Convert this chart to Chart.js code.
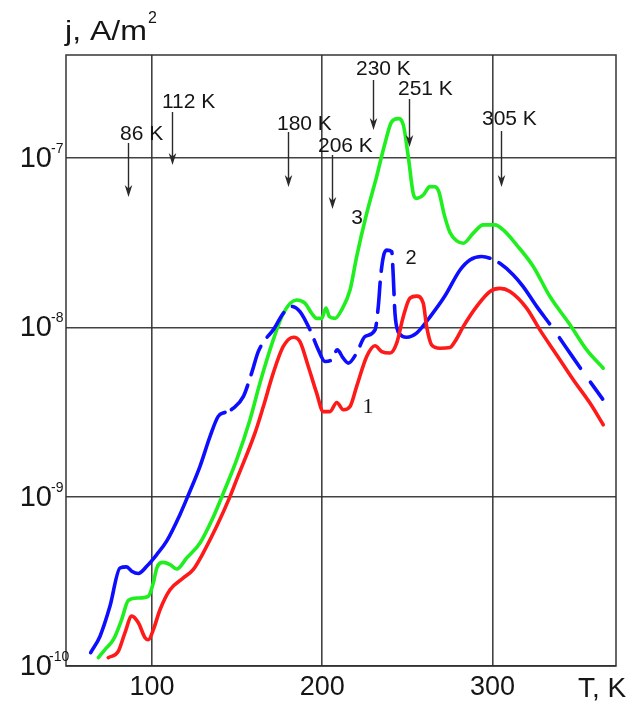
<!DOCTYPE html>
<html>
<head>
<meta charset="utf-8">
<script src="https://cdn.jsdelivr.net/npm/chart.js@4.4.1/dist/chart.umd.min.js"></script>
<style>
  html, body { margin: 0; padding: 0; background: #fff; }
  canvas { display: block; }
</style>
</head>
<body>
<canvas id="c" width="635" height="704"></canvas>
<script>
// Curve 1 (red): temperature, K and current density, A/m^2
const tempRed = [74.3, 80.2, 84.1, 88.1, 92, 95.9, 97.8, 100.8, 104.7, 110.6, 118.4, 124.3, 130.1, 138, 145.8, 149.7, 160.5, 165.4, 171.2, 177.1, 183, 186.9, 191.8, 196.7, 200.6, 204.5, 208.5, 212.4, 216.3, 220.2, 226.1, 231, 234.9, 239.8, 243.7, 247.6, 251.5, 255.4, 259.3, 261.3, 264.2, 269.1, 275, 277.9, 282.8, 290.7, 298.5, 304.3, 310.2, 320, 327.8, 337.6, 347.4, 357.2, 365];
const currRed = [1.12e-10, 1.22e-10, 1.57e-10, 1.97e-10, 1.80e-10, 1.47e-10, 1.43e-10, 1.64e-10, 2.15e-10, 2.82e-10, 3.31e-10, 3.72e-10, 4.66e-10, 6.68e-10, 1.00e-9, 1.26e-9, 2.38e-9, 3.41e-9, 5.37e-9, 7.71e-9, 8.75e-9, 8.24e-9, 5.87e-9, 4.09e-9, 3.18e-9, 3.18e-9, 3.60e-9, 3.26e-9, 3.41e-9, 4.48e-9, 6.73e-9, 7.78e-9, 7.19e-9, 7.05e-9, 8.07e-9, 1.16e-8, 1.49e-8, 1.53e-8, 1.39e-8, 1.01e-8, 7.89e-9, 7.53e-9, 7.60e-9, 8.24e-9, 1.01e-8, 1.33e-8, 1.63e-8, 1.70e-8, 1.63e-8, 1.30e-8, 9.66e-9, 6.89e-9, 4.90e-9, 3.57e-9, 2.66e-9];

// Curve 2 (blue)
const tempBlue = [64, 69.5, 75.3, 81.2, 85.1, 88.1, 92, 96.9, 102.8, 108.6, 116.4, 121.3, 128.2, 134.1, 138.9, 142.9, 147.8, 153.7, 158.5, 162.4, 166.4, 171.2, 177.1, 182, 186.9, 192.8, 197.7, 201.6, 205.5, 208.8, 212.3, 215.3, 220.2, 225.1, 231, 232.9, 234.3, 235.9, 237.8, 240.8, 241.7, 242.7, 244.6, 249.6, 255.4, 263.2, 272, 280.9, 286.7, 293.6, 298.5, 304.3, 312.2, 318, 325.9, 334.7, 343.5, 352.3, 365];
const currBlue = [1.20e-10, 1.50e-10, 2.25e-10, 3.79e-10, 3.85e-10, 3.63e-10, 3.52e-10, 3.88e-10, 4.55e-10, 5.46e-10, 7.83e-10, 1.02e-9, 1.51e-9, 2.27e-9, 2.98e-9, 3.15e-9, 3.33e-9, 3.91e-9, 5.37e-9, 7.19e-9, 8.43e-9, 9.66e-9, 1.21e-8, 1.33e-8, 1.24e-8, 9.66e-9, 7.36e-9, 6.28e-9, 6.43e-9, 7.36e-9, 6.58e-9, 6.15e-9, 7.05e-9, 8.83e-9, 9.66e-9, 1.33e-8, 2.00e-8, 2.62e-8, 2.86e-8, 2.80e-8, 2.00e-8, 1.21e-8, 9.44e-9, 8.75e-9, 9.25e-9, 1.15e-8, 1.53e-8, 2.18e-8, 2.50e-8, 2.62e-8, 2.56e-8, 2.39e-8, 2.04e-8, 1.74e-8, 1.33e-8, 1.01e-8, 7.53e-9, 5.61e-9, 3.73e-9];

// Curve 3 (green)
const tempGreen = [68.5, 72.4, 77.3, 82.2, 86.1, 92, 97.8, 100.8, 102.8, 106.6, 110.6, 114.5, 120.4, 128.2, 136, 141.9, 149.7, 157.5, 163.4, 171.2, 177.1, 184.9, 189.8, 193.8, 196.7, 199.6, 202.2, 204.1, 207.5, 211.4, 216.3, 220.2, 226.1, 231.9, 236.8, 240.8, 244.6, 247.6, 250.5, 253.4, 255.4, 259.3, 263.2, 266.2, 268.5, 271.5, 275, 279, 282.8, 288.7, 294.5, 301.4, 306.3, 314.1, 323.9, 333.7, 345.4, 355.3, 365];
const currGreen = [1.12e-10, 1.25e-10, 1.43e-10, 1.88e-10, 2.44e-10, 2.52e-10, 2.58e-10, 3.10e-10, 3.79e-10, 4.09e-10, 3.97e-10, 3.74e-10, 4.35e-10, 5.33e-10, 7.59e-10, 1.05e-9, 1.65e-9, 2.84e-9, 4.69e-9, 8.43e-9, 1.21e-8, 1.45e-8, 1.39e-8, 1.21e-8, 1.13e-8, 1.13e-8, 1.30e-8, 1.16e-8, 1.13e-8, 1.27e-8, 1.66e-8, 2.62e-8, 4.72e-8, 7.76e-8, 1.22e-7, 1.64e-7, 1.71e-7, 1.57e-7, 1.02e-7, 6.19e-8, 5.78e-8, 6.05e-8, 6.78e-8, 6.76e-8, 6.31e-8, 4.68e-8, 3.63e-8, 3.24e-8, 3.14e-8, 3.60e-8, 4.03e-8, 4.03e-8, 3.76e-8, 3.07e-8, 2.29e-8, 1.52e-8, 1.04e-8, 7.36e-9, 5.74e-9];

// Axis ticks
const xTicks = [100, 200, 300];
const xTickLabels = ['100', '200', '300'];
const yTicks = [1e-7, 1e-8, 1e-9, 1e-10];
const yTickExponents = ['-7', '-8', '-9', '-10'];

// Marked peak temperatures
const peakTemps = [86, 112, 180, 206, 230, 251, 305];
const peakLabels = ['86 K', '112 K', '180 K', '206 K', '230 K', '251 K', '305 K'];

// Curve numbers
const curveNames = ['1', '2', '3'];

// ---- drawing styles ----
const SANS = '"Liberation Sans", Arial, Helvetica, sans-serif';
const SERIF = '"Liberation Serif", "Times New Roman", serif';
const INK = '#151515';
const GRID = 'rgba(45,45,45,0.9)';

// text placement for peak markers: [text left, text baseline, arrow top, arrow tip]
const peakPlacement = [
  [120, 140, 143, 197],
  [162, 108, 112, 165],
  [277, 130, 132, 187],
  [318, 152, 155, 209],
  [356, 75, 80, 130],
  [398, 95, 99, 147],
  [482, 125, 131, 187]
];
// curve number placement: [centre x, centre y, font]
const curveNamePlacement = [
  [368, 407, '22px ' + SERIF],
  [411, 258, '20px ' + SANS],
  [357, 218, '21px ' + SANS]
];

function pts(xs, ys) { return xs.map((x, i) => ({ x: x, y: ys[i] })); }

// blue curve: solid at the ends of its runs, dashed elsewhere
function blueDash(t) {
  if (t >= 142.9 && t < 244.6) return [30, 11];
  if (t >= 298.5) return [80, 17, 37, 17, 21, 10];
  return [];
}
function blueDashOffset(t) {
  if (t >= 142.9 && t < 244.6) return -7;
  if (t >= 298.5) return -10;
  return 0;
}

const decor = {
  id: 'decor',
  beforeDatasetsDraw(chart) {
    const { ctx, chartArea: a } = chart;
    ctx.save();
    ctx.strokeStyle = GRID;
    ctx.lineWidth = 1.6;
    ctx.strokeRect(a.left, a.top, a.right - a.left, a.bottom - a.top);
    ctx.restore();
  },
  afterDatasetsDraw(chart) {
    const { ctx, scales: { x, y } } = chart;
    ctx.save();
    ctx.fillStyle = INK;

    // x tick labels
    ctx.font = '27px ' + SANS;
    ctx.textAlign = 'center';
    ctx.textBaseline = 'alphabetic';
    xTicks.forEach((v, i) => ctx.fillText(xTickLabels[i], x.getPixelForValue(v), 695));

    // y tick labels as powers of ten
    yTicks.forEach((v, i) => {
      const py = y.getPixelForValue(v);
      ctx.font = '29px ' + SANS;
      ctx.textAlign = 'right';
      ctx.fillText('10', 52, py + 9);
      ctx.font = '14px ' + SANS;
      ctx.textAlign = 'left';
      ctx.fillText(yTickExponents[i], yTickExponents[i].length > 2 ? 49 : 51, py - 5);
    });

    // axis titles
    ctx.textAlign = 'left';
    ctx.font = '28px ' + SANS;
    const w = ctx.measureText('j, A/m').width;
    ctx.save();
    ctx.translate(65, 40);
    ctx.scale(82 / w, 1);
    ctx.fillText('j, A/m', 0, 0);
    ctx.restore();
    ctx.font = '16px ' + SANS;
    ctx.fillText('2', 148, 23);
    ctx.font = '28px ' + SANS;
    ctx.fillText('T, K', 578, 697);

    // peak markers
    ctx.strokeStyle = '#2a2a2a';
    ctx.fillStyle = '#2a2a2a';
    ctx.lineWidth = 1.4;
    peakTemps.forEach((t, i) => {
      const [tx, ty, a0, a1] = peakPlacement[i];
      const px = Math.round(x.getPixelForValue(t)) + 0.5;
      ctx.beginPath();
      ctx.moveTo(px, a0);
      ctx.lineTo(px, a1 - 6);
      ctx.stroke();
      ctx.beginPath();
      ctx.moveTo(px, a1);
      ctx.lineTo(px - 3.8, a1 - 12);
      ctx.lineTo(px, a1 - 8.5);
      ctx.lineTo(px + 3.8, a1 - 12);
      ctx.closePath();
      ctx.fill();
      ctx.fillStyle = INK;
      ctx.font = '21px ' + SANS;
      ctx.textAlign = 'left';
      ctx.fillText(peakLabels[i], tx, ty);
      ctx.fillStyle = '#2a2a2a';
    });

    // curve numbers
    ctx.fillStyle = INK;
    ctx.textAlign = 'center';
    ctx.textBaseline = 'middle';
    curveNames.forEach((n, i) => {
      const [cx, cy, f] = curveNamePlacement[i];
      ctx.font = f;
      ctx.fillText(n, cx, cy);
    });
    ctx.restore();
  }
};

const gridOpts = { color: GRID, lineWidth: 1.6, drawTicks: false };

new Chart(document.getElementById('c'), {
  type: 'line',
  data: {
    datasets: [
      { label: curveNames[0], data: pts(tempRed, currRed), borderColor: '#ff1a1a' },
      {
        label: curveNames[1], data: pts(tempBlue, currBlue), borderColor: '#0d0dff',
        segment: {
          borderDash: c => blueDash(c.p0.parsed.x),
          borderDashOffset: c => blueDashOffset(c.p0.parsed.x)
        }
      },
      { label: curveNames[2], data: pts(tempGreen, currGreen), borderColor: '#1fee1f' }
    ]
  },
  options: {
    responsive: false,
    animation: false,
    events: [],
    layout: { padding: { left: 66, top: 55, right: 19, bottom: 38 } },
    plugins: { legend: { display: false }, tooltip: { enabled: false } },
    elements: {
      point: { radius: 0, hoverRadius: 0 },
      line: {
        borderWidth: 3.6,
        tension: 0.4,
        cubicInterpolationMode: 'monotone',
        borderCapStyle: 'round',
        borderJoinStyle: 'round',
        fill: false
      }
    },
    scales: {
      x: {
        type: 'linear', min: 49.5, max: 372.5,
        afterBuildTicks: s => { s.ticks = xTicks.map(v => ({ value: v })); },
        ticks: { display: false },
        grid: gridOpts,
        border: { display: false }
      },
      y: {
        type: 'logarithmic', min: 1e-10, max: 4.06e-7,
        afterBuildTicks: s => { s.ticks = yTicks.map(v => ({ value: v })); },
        ticks: { display: false },
        grid: gridOpts,
        border: { display: false }
      }
    }
  },
  plugins: [decor]
});
</script>
</body>
</html>
